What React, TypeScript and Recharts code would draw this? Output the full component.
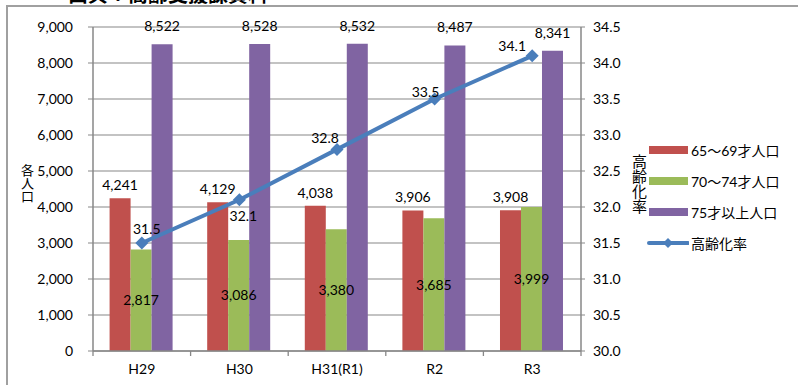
import {
  ComposedChart,
  Bar,
  Line,
  XAxis,
  YAxis,
  CartesianGrid,
  LabelList,
} from "recharts";

const years = ["H29", "H30", "H31(R1)", "R2", "R3"];
const age65to69 = [4241, 4129, 4038, 3906, 3908];
const age70to74 = [2817, 3086, 3380, 3685, 3999];
const age75plus = [8522, 8528, 8532, 8487, 8341];
const agingRate = [31.5, 32.1, 32.8, 33.5, 34.1];

const leftTicks = [0, 1000, 2000, 3000, 4000, 5000, 6000, 7000, 8000, 9000];
const rightTicks = [30, 30.5, 31, 31.5, 32, 32.5, 33, 33.5, 34, 34.5];

// where each rate label sits relative to its point (dx, dy)
const rateLabelShift = [
  [5, -15],
  [4, 16],
  [-12, -12],
  [-9, -8],
  [-20, -10],
];

const GRAY = "#878787";
const RED = "#C0504D";
const GREEN = "#9BBB59";
const PURPLE = "#8064A2";
const BLUE = "#4A7EBB";
const FONT = "Lato, 'Noto Sans CJK JP', sans-serif";
const JP = "'Noto Sans CJK JP', sans-serif";

const data = years.map((y, i) => ({
  year: y,
  a: age65to69[i],
  b: age70to74[i],
  c: age75plus[i],
  rate: agingRate[i],
}));

const legendItems = [
  { label: "65～69才人口", color: RED, kind: "bar" },
  { label: "70～74才人口", color: GREEN, kind: "bar" },
  { label: "75才以上人口", color: PURPLE, kind: "bar" },
  { label: "高齢化率", color: BLUE, kind: "line" },
];

const fmt = (v: unknown) => Number(v).toLocaleString("en-US");

function CategoryTick(props: any) {
  const { x, y, payload, index, visibleTicksCount, width } = props;
  const half = Number(width) / visibleTicksCount / 2;
  const last = index === visibleTicksCount - 1;
  return (
    <g>
      <line x1={x - half} x2={x - half} y1={y} y2={y + 5} stroke={GRAY} strokeWidth={1.3} />
      {last && (
        <line x1={x + half} x2={x + half} y1={y} y2={y + 5} stroke={GRAY} strokeWidth={1.3} />
      )}
      <text x={x} y={y + 17} textAnchor="middle" dominantBaseline="central" fontSize={14} fill="#000">
        {payload.value}
      </text>
    </g>
  );
}

function Diamond(props: any) {
  const { cx, cy } = props;
  if (cx == null || cy == null) return null;
  const r = 6.5;
  return (
    <polygon
      points={`${cx},${cy - r} ${cx + r},${cy} ${cx},${cy + r} ${cx - r},${cy}`}
      fill={BLUE}
    />
  );
}

function RateLabel(props: any) {
  const { x, y, value, index } = props;
  const [dx, dy] = rateLabelShift[index] ?? [0, -12];
  return (
    <text
      x={x + dx}
      y={y + dy}
      textAnchor="middle"
      dominantBaseline="central"
      fontSize={14}
      fill="#000"
    >
      {Number(value).toFixed(1)}
    </text>
  );
}

function LegendBox() {
  return (
    <div
      style={{
        position: "absolute",
        left: 647,
        top: 134,
        fontFamily: FONT,
        fontSize: 14,
        color: "#000",
      }}
    >
      {legendItems.map((it) => (
        <div key={it.label} style={{ display: "flex", alignItems: "center", height: 31 }}>
          <svg width={42} height={12} style={{ marginRight: 2 }}>
            {it.kind === "bar" ? (
              <rect x={2} y={2} width={39} height={8} fill={it.color} />
            ) : (
              <g>
                <line x1={2} x2={41} y1={6} y2={6} stroke={it.color} strokeWidth={4} strokeLinecap="round" />
                <polygon points="21,1 26,6 21,11 16,6" fill={it.color} />
              </g>
            )}
          </svg>
          <span>{it.label}</span>
        </div>
      ))}
    </div>
  );
}

export default function App() {
  return (
    <div
      style={{
        position: "fixed",
        left: 0,
        top: 0,
        width: 798,
        height: 385,
        background: "#fff",
        overflow: "hidden",
        fontFamily: FONT,
      }}
    >
      {/* frame edges of the original chart box */}
      <svg width={798} height={385} style={{ position: "absolute", left: 0, top: 0 }}>
        <polyline points="7,385 7,6 798,6" fill="none" stroke="#a0a0a0" strokeWidth={2} />
      </svg>
      <div
        style={{
          position: "absolute",
          left: 68,
          top: -21,
          fontSize: 20,
          lineHeight: "29px",
          fontWeight: 700,
          fontFamily: JP,
          color: "#000",
          whiteSpace: "nowrap",
        }}
      >
        出典：高齢支援課資料
      </div>
      <div style={{ position: "absolute", left: 0, top: 0 }}>
        <ComposedChart
          width={798}
          height={385}
          data={data}
          margin={{ top: 27, right: 167, bottom: 0, left: 0 }}
          barGap={0}
          barCategoryGap="17%"
        >
          <CartesianGrid vertical={false} stroke={GRAY} strokeWidth={1.2} yAxisId="left" />
          <XAxis
            dataKey="year"
            height={34}
            tickSize={0}
            tickMargin={0}
            tickLine={false}
            axisLine={{ stroke: GRAY, strokeWidth: 1.5 }}
            tick={<CategoryTick />}
            interval={0}
          />
          <YAxis
            yAxisId="left"
            width={93}
            domain={[0, 9000]}
            ticks={leftTicks}
            tickFormatter={fmt}
            tickSize={5}
            tickMargin={15}
            tick={{ fontSize: 14, fill: "#000" }}
            axisLine={{ stroke: GRAY, strokeWidth: 1.5 }}
            tickLine={{ stroke: GRAY }}
          />
          <YAxis
            yAxisId="right"
            orientation="right"
            width={50}
            domain={[30, 34.5]}
            ticks={rightTicks}
            tickFormatter={(v: number) => v.toFixed(1)}
            tickSize={4}
            tickMargin={8}
            tick={{ fontSize: 14, fill: "#000" }}
            axisLine={{ stroke: GRAY, strokeWidth: 1.5 }}
            tickLine={{ stroke: GRAY }}
          />
          <Bar yAxisId="left" dataKey="a" name="65～69才人口" fill={RED} isAnimationActive={false}>
            <LabelList dataKey="a" position="top" offset={8} formatter={fmt} style={{ fontSize: 14, fill: "#000" }} />
          </Bar>
          <Bar yAxisId="left" dataKey="b" name="70～74才人口" fill={GREEN} isAnimationActive={false}>
            <LabelList dataKey="b" position="center" formatter={fmt} style={{ fontSize: 14, fill: "#000" }} />
          </Bar>
          <Bar yAxisId="left" dataKey="c" name="75才以上人口" fill={PURPLE} isAnimationActive={false}>
            <LabelList dataKey="c" position="top" offset={13} formatter={fmt} style={{ fontSize: 14, fill: "#000" }} />
          </Bar>
          <Line
            yAxisId="right"
            dataKey="rate"
            name="高齢化率"
            stroke={BLUE}
            strokeWidth={4}
            dot={<Diamond />}
            activeDot={false}
            isAnimationActive={false}
          >
            <LabelList dataKey="rate" content={<RateLabel />} />
          </Line>
        </ComposedChart>
      </div>
      <div
        style={{
          position: "absolute",
          left: 18,
          top: 164,
          writingMode: "vertical-rl",
          fontSize: 13,
          fontFamily: JP,
          color: "#000",
        }}
      >
        各人口
      </div>
      <div
        style={{
          position: "absolute",
          left: 629,
          top: 154,
          writingMode: "vertical-rl",
          fontSize: 15,
          fontFamily: JP,
          color: "#000",
        }}
      >
        高齢化率
      </div>
      <LegendBox />
    </div>
  );
}
